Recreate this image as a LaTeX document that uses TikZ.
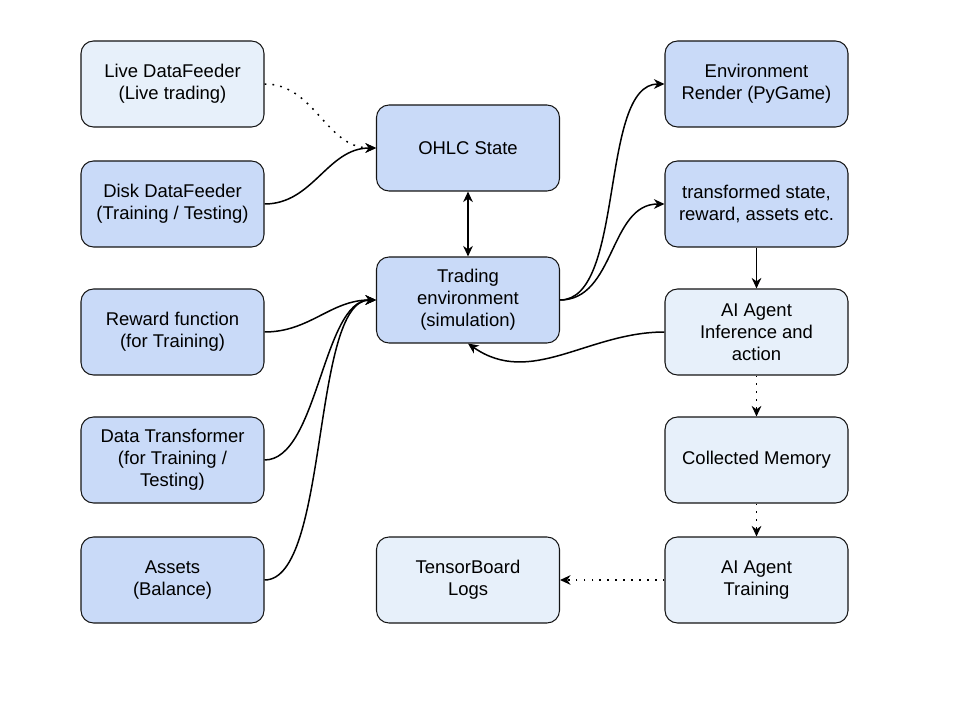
\documentclass[tikz,border=0pt]{standalone}
\usepackage{fontspec}
\setmainfont{Liberation Sans}
\usepackage{tikz}
\usepackage{xcolor}
\usetikzlibrary{arrows.meta,positioning,calc}
\definecolor{cornflower}{RGB}{201,218,248}
\definecolor{paleblue}{RGB}{231,240,250}
\definecolor{edge}{RGB}{20,20,20}

\begin{document}
\begin{tikzpicture}[
  box/.style={draw=edge, line width=0.6pt, rounded corners=0.25cm, fill=cornflower,
    minimum width=3.66cm, minimum height=1.72cm, align=center,
    font=\fontsize{10.5}{12.5}\selectfont},
  lightbox/.style={box, fill=paleblue},
  flow/.style={-{Stealth[length=6pt,width=5.5pt]}, line width=0.85pt},
  dotflow/.style={flow, dash pattern=on 1pt off 3.5pt}
]
\useasboundingbox (0,0) rectangle (19.2,14.4);

% Feeders and inputs
\node[lightbox] (live) at (3.45,12.72) {Live DataFeeder\\(Live trading)};
\node[box] (disk) at (3.45,10.32) {Disk DataFeeder\\(Training / Testing)};
\node[box] (reward) at (3.45,7.76) {Reward function\\(for Training)};
\node[box] (transform) at (3.45,5.2) {Data Transformer\\(for Training /\\Testing)};
\node[box] (assets) at (3.45,2.8) {Assets\\(Balance)};

% Environment
\node[box] (ohlc) at (9.36,11.44) {OHLC State};
\node[box] (env) at (9.36,8.4) {Trading\\environment\\(simulation)};
\node[lightbox] (logs) at (9.36,2.8) {TensorBoard\\Logs};

% Agent side
\node[box] (render) at (15.13,12.72) {Environment\\Render (PyGame)};
\node[box] (state) at (15.13,10.32) {transformed state,\\reward, assets etc.};
\node[lightbox] (infer) at (15.13,7.76) {AI Agent\\Inference and\\action};
\node[lightbox] (memory) at (15.13,5.2) {Collected Memory};
\node[lightbox] (train) at (15.13,2.8) {AI Agent\\Training};

\draw[dotflow] (live.east) to[out=0, in=180] (ohlc.west);
\draw[flow] (disk.east) to[out=0, in=180] (ohlc.west);
\draw[flow] (reward.east) to[out=0, in=180] (env.west);
\draw[flow] (transform.east) to[out=0, in=180, looseness=0.7] (env.west);
\draw[flow] (assets.east) to[out=0, in=180, looseness=0.55] (env.west);

\draw[flow, {Stealth[length=6pt,width=5.5pt]}-{Stealth[length=6pt,width=5.5pt]}] (ohlc.south) -- (env.north);

\draw[flow] (env.east) to[out=0, in=180, looseness=0.7] (render.west);
\draw[flow] (env.east) to[out=0, in=180] (state.west);
\draw[flow] (state.south) -- (infer.north);
\draw[flow] (infer.west) to[out=180, in=-35] (env.south);

\draw[dotflow] (infer.south) -- (memory.north);
\draw[dotflow] (memory.south) -- (train.north);
\draw[dotflow] (train.west) -- (logs.east);
\end{tikzpicture}
\end{document}
